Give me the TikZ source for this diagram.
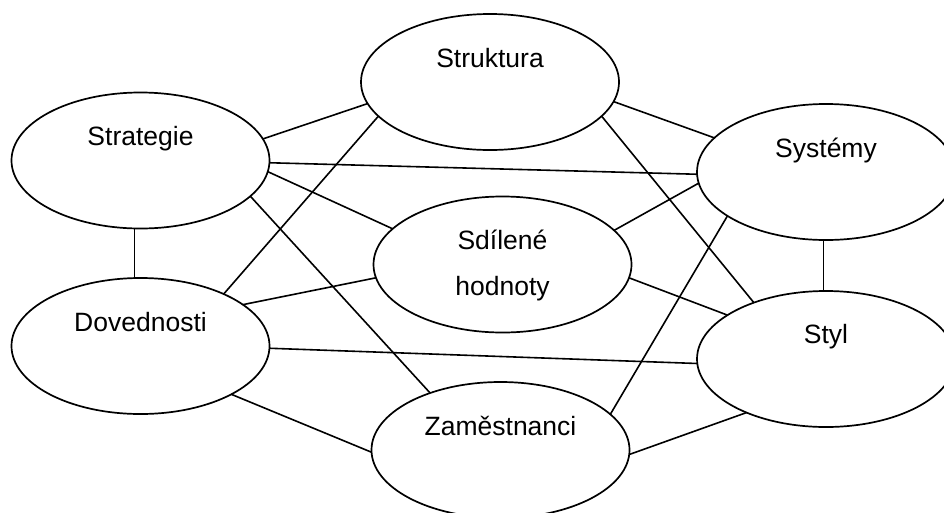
\documentclass[tikz,border=0pt]{standalone}
\usepackage{fontspec}
\setmainfont{Liberation Sans}
\usetikzlibrary{shapes.geometric}
\begin{document}
\begin{tikzpicture}[x=1pt,y=-1pt,
  ell/.style={ellipse, draw, line width=1.7pt, minimum width=258pt, minimum height=136pt, inner sep=0pt, outer sep=0pt},
  lbl/.style={anchor=base, font=\fontsize{26.5}{32}\selectfont, inner sep=0pt},
  link/.style={line width=1.6pt}]
\useasboundingbox (0,0) rectangle (944,512);
\begin{scope}
\clip (0,0) rectangle (944,512);
% ellipses
\node[ell] (stru)  at (490,82)    {};
\node[ell] (strat) at (140.5,160.5) {};
\node[ell] (sys)   at (826,172)   {};
\node[ell] (sdil)  at (502.5,264.5) {};
\node[ell] (dov)   at (140.5,346) {};
\node[ell] (styl)  at (826,359)   {};
\node[ell] (zam)   at (500.5,450) {};
\end{scope}
% labels
\node[lbl] (tstru)  at ([yshift=15pt]stru.center)  {Struktura};
\node[lbl] (tstrat) at ([yshift=15pt]strat.center) {Strategie};
\node[lbl] (tsys)   at ([yshift=15pt]sys.center)   {Systémy};
\node[lbl] (tsdil1) at ([yshift=15.5pt]sdil.center) {Sdílené};
\node[lbl] (tsdil2) at ([yshift=-30.5pt]sdil.center) {hodnoty};
\node[lbl] (tdov)   at ([yshift=15pt]dov.center)   {Dovednosti};
\node[lbl] (tstyl)  at ([yshift=16pt]styl.center)  {Styl};
\node[lbl] (tzam)   at ([yshift=15pt]zam.center)   {Zaměstnanci};
% connectors
\draw[link] (strat.10)   -- (stru.190);
\draw[link] (strat.-1)   -- (sys.181);
\draw[link] (strat.-5)   -- (sdil.162);
\draw[link] (strat.-18)  -- (zam.141);
\draw[link] (strat.-95.5) -- (dov.95.5);
\draw[link] (stru.197.4) -- (dov.32.6);
\draw[link] (stru.-9.75) -- (sys.163.9);
\draw[link] (stru.-17.2) -- (styl.142);
\draw[link] (sdil.17.5)  -- (sys.185.8);
\draw[link] (sys.204.9)  -- (zam.18.2);
\draw[link] (sys.-92.5)  -- (styl.92.5);
\draw[link] (dov.22.8)   -- (sdil.186);
\draw[link] (sdil.-6)    -- (styl.156);
\draw[link] (dov.-1.8)   -- (styl.182.2);
\draw[link] (dov.-28.7)  -- (zam.181);
\draw[link] (zam.-2.3)   -- (styl.214.8);
\end{tikzpicture}
\end{document}
